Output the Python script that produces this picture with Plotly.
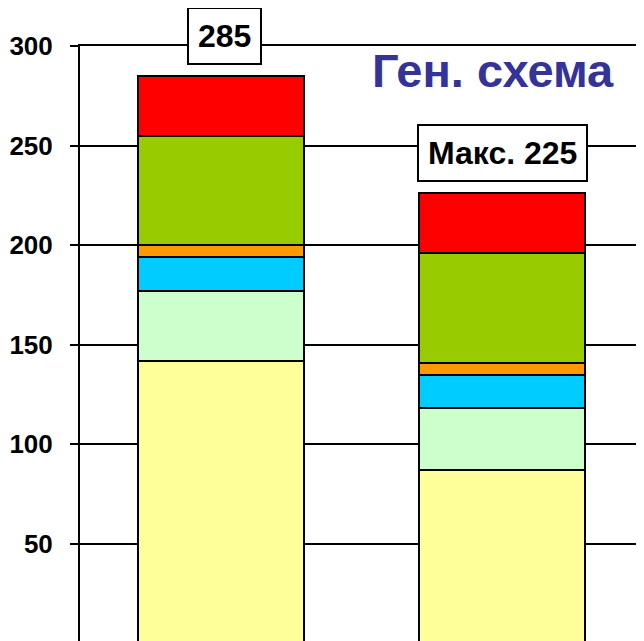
import plotly.graph_objects as go

categories = ["Вариант 1", "Вариант 2"]
series_names = ["s1", "s2", "s3", "s4", "s5", "s6"]
yellow = [142, 87]
light_green = [35, 31]
cyan = [17, 17]
orange = [6, 6]
green = [55, 55]
red = [30, 30]
totals_labels = ["285", "Макс. 225"]
y_ticks = [50, 100, 150, 200, 250, 300]
title_text = "Ген. схема"

colors = ["#FFFF99", "#CCFFCC", "#00CCFF", "#FF9900", "#99CC00", "#FF0000"]
series = [yellow, light_green, cyan, orange, green, red]

FONT = "Liberation Sans, Arial, sans-serif"

fig = go.Figure()
for name, vals, col in zip(series_names, series, colors):
    fig.add_trace(go.Bar(
        x=[0, 1], y=vals, name=name, width=0.59,
        marker=dict(color=col, line=dict(color="black", width=2)),
        showlegend=False, hoverinfo="skip",
    ))

totals = [sum(s[i] for s in series) for i in range(len(categories))]
for i, (t, lab) in enumerate(zip(totals, totals_labels)):
    fig.add_annotation(
        x=i, y=t, xref="x", yref="y", text="<b>%s</b>" % lab,
        showarrow=False, yanchor="bottom", yshift=11, xshift=4 if i == 0 else 0,
        font=dict(family=FONT, size=32, color="black"),
        bgcolor="white", bordercolor="black", borderwidth=2, borderpad=9,
    )

fig.add_annotation(
    x=0.733, y=0.958, xref="paper", yref="paper", text="<b>%s</b>" % title_text,
    showarrow=False, xanchor="center", yanchor="middle",
    font=dict(family=FONT, size=47, color="#333399"),
)

fig.update_layout(
    barmode="stack",
    width=644, height=641,
    margin=dict(l=72, r=9, t=38, b=8, pad=0, autoexpand=False),
    plot_bgcolor="white", paper_bgcolor="white",
)
fig.update_xaxes(
    range=[-0.5, 1.5], showticklabels=False, showgrid=False, zeroline=False,
    showline=True, linecolor="black", linewidth=2, mirror=True, ticks="",
    automargin=False,
)
fig.update_yaxes(
    range=[1.15, 300], tickvals=y_ticks, ticktext=[str(v) for v in y_ticks],
    showgrid=True, gridcolor="black", gridwidth=2, zeroline=False,
    showline=True, linecolor="black", linewidth=2, mirror=True,
    ticks="outside", ticklen=8, tickwidth=2, tickcolor="black",
    tickfont=dict(family=FONT, size=26, color="black", weight="bold"),
    ticklabelstandoff=12, automargin=False,
)

fig.write_html("out.html")
